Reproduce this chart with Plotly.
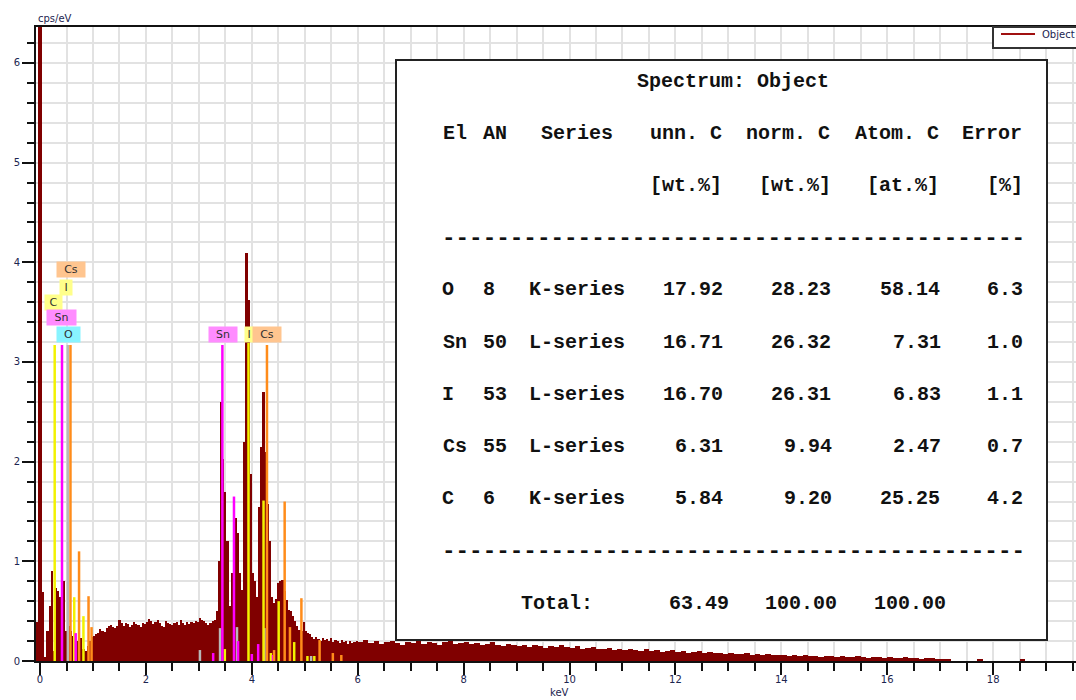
import numpy as np
import plotly.graph_objects as go

# ---------------- data ----------------
# spectrum, fine channels (0.04 keV) starting at -0.08 keV
spec_lo_step = 0.04
spec_lo_start = -0.08
spec_lo_cps = [
    0.39, 7.00, 7.00, 0.69, 0.04, 0.30, 0.55, 0.90, 0.10, 0.73,
    0.70, 0.64, 0.30, 0.80, 0.30, 0.35, 0.30, 0.25, 0.20, 0.20,
    0.23, 0.23, 0.12, 0.10, 0.15, 0.20, 0.24, 0.25, 0.27, 0.28,
    0.32, 0.30, 0.29, 0.33, 0.35, 0.36, 0.34, 0.33, 0.35, 0.41,
    0.38, 0.35, 0.38, 0.37, 0.34, 0.36, 0.39, 0.37, 0.36, 0.34,
    0.38, 0.37, 0.39, 0.42, 0.40, 0.37, 0.39, 0.41, 0.38, 0.35,
    0.34, 0.40, 0.38, 0.37, 0.36, 0.38, 0.39, 0.36, 0.41, 0.38,
    0.36, 0.39, 0.37, 0.39, 0.38, 0.40, 0.39, 0.43, 0.41, 0.40,
    0.38, 0.36, 0.38, 0.40, 0.41, 0.50, 1.00, 2.60, 2.03, 1.70,
    1.20, 0.55, 0.88, 1.20, 1.43, 1.28, 0.88, 0.71, 2.20, 4.09,
    3.62, 1.88, 0.88, 0.80, 0.64, 1.55, 2.15, 2.70, 2.10, 1.58,
    1.20, 0.64, 0.58, 0.62, 0.78, 0.80, 0.81, 0.70, 0.61, 0.51,
    0.50, 0.45, 0.40, 0.35, 0.31, 0.30, 0.39, 0.30, 0.28, 0.27,
    0.24, 0.22, 0.24, 0.22, 0.20, 0.23, 0.21, 0.22, 0.20, 0.23,
    0.19, 0.21, 0.20, 0.18, 0.21, 0.19, 0.20, 0.17, 0.20, 0.18,
    0.19, 0.20,
]
# spectrum, coarse channels (0.1 keV) from 6.0 keV
spec_hi_step = 0.1
spec_hi_start = 6.0
spec_hi_cps = [
    0.19, 0.21, 0.18, 0.20, 0.17, 0.19, 0.20, 0.18, 0.16, 0.19,
    0.18, 0.20, 0.17, 0.19, 0.18, 0.16, 0.19, 0.21, 0.17, 0.18,
    0.19, 0.17, 0.18, 0.16, 0.17, 0.19, 0.16, 0.15, 0.17, 0.16,
    0.15, 0.16, 0.14, 0.16, 0.15, 0.13, 0.15, 0.14, 0.16, 0.14,
    0.13, 0.15, 0.12, 0.13, 0.14, 0.12, 0.12, 0.13, 0.11, 0.12,
    0.11, 0.12, 0.11, 0.10, 0.12, 0.10, 0.11, 0.09, 0.10, 0.11,
    0.09, 0.10, 0.08, 0.09, 0.10, 0.08, 0.09, 0.08, 0.08, 0.07,
    0.08, 0.07, 0.07, 0.08, 0.06, 0.07, 0.06, 0.07, 0.06, 0.06,
    0.06, 0.05, 0.06, 0.05, 0.06, 0.05, 0.05, 0.04, 0.05, 0.05,
    0.04, 0.05, 0.04, 0.04, 0.05, 0.04, 0.03, 0.04, 0.04, 0.03,
    0.04, 0.03, 0.03, 0.04, 0.03, 0.03, 0.02, 0.03, 0.03, 0.02,
    0.02, 0.02, 0.00, 0.00, 0.00, 0.00, 0.00, 0.02, 0.00, 0.00,
    0.00, 0.00, 0.00, 0.00, 0.00, 0.02, 0.00, 0.00, 0.00, 0.00,
    0.00, 0.00, 0.00, 0.00, 0.00,
]

# element line markers (keV, cps)
yellow_keV = [0.277, 0.646, 0.82, 3.49, 3.937, 4.221, 4.36, 4.507, 4.80, 5.05, 5.18]
yellow_cps = [3.17, 0.64, 0.45, 0.12, 3.19, 1.61, 0.08, 0.60, 0.19, 0.05, 0.05]
magenta_keV = [0.415, 0.674, 3.27, 3.444, 3.663, 3.74, 4.00, 4.12, 4.40]
magenta_cps = [3.17, 0.28, 0.08, 3.17, 1.65, 0.20, 0.07, 0.17, 0.06]
orange_keV = [0.575, 0.737, 0.916, 0.973, 4.286, 4.42, 4.62, 4.72, 4.936, 5.28, 5.53, 5.69]
orange_cps = [3.17, 1.10, 0.65, 0.34, 3.17, 0.11, 1.60, 0.34, 0.63, 0.21, 0.08, 0.06]
grey_keV = [0.525, 3.02, 3.40, 3.72, 4.24, 5.12]
grey_cps = [3.17, 0.11, 0.33, 0.34, 0.33, 0.05]

# element label boxes
label_text = ["Cs", "I", "C", "Sn", "O", "Sn", "I", "Cs"]
label_keV = [0.585, 0.49, 0.255, 0.406, 0.538, 3.456, 3.947, 4.287]
label_cps = [3.93, 3.75, 3.60, 3.45, 3.28, 3.28, 3.28, 3.28]
label_bg = ["#ffc58f", "#ffff8a", "#ffff8a", "#ff8cff", "#88f4ff", "#ff8cff", "#ffff8a", "#ffc58f"]
label_w = [28, 12, 17, 29, 23, 28, 8, 28]

# quantification table
tbl_el = ["O", "Sn", "I", "Cs", "C"]
tbl_an = [8, 50, 53, 55, 6]
tbl_series = ["K-series", "L-series", "L-series", "L-series", "K-series"]
tbl_unn = [17.92, 16.71, 16.70, 6.31, 5.84]
tbl_norm = [28.23, 26.32, 26.31, 9.94, 9.20]
tbl_atom = [58.14, 7.31, 6.83, 2.47, 25.25]
tbl_err = [6.3, 1.0, 1.1, 0.7, 4.2]
tbl_total = [63.49, 100.00, 100.00]

legend_name = "Object"

# ---------------- figure ----------------
W, H = 1076, 700
L, R, T, B = 36, 1076, 27, 661
X_MIN, X_MAX = -0.076, 19.565
Y_MAX = 6.361

def pxp(x):
    return (x - L) / (R - L)

def pyp(y):
    return (B - y) / (B - T)

maroon = "#800000"
axis_txt = "#1c2550"

lo_x = spec_lo_start + spec_lo_step * (np.arange(len(spec_lo_cps)) + 0.5)
hi_x = spec_hi_start + spec_hi_step * (np.arange(len(spec_hi_cps)) + 0.5)
bar_x = list(lo_x) + list(hi_x)
bar_y = spec_lo_cps + spec_hi_cps
bar_w = [spec_lo_step] * len(spec_lo_cps) + [spec_hi_step] * len(spec_hi_cps)

fig = go.Figure()
fig.add_trace(go.Bar(x=bar_x, y=bar_y, width=bar_w, name=legend_name,
                     marker=dict(color=maroon, line=dict(width=0)),
                     showlegend=False, hoverinfo="skip"))

def stems(xs, ys):
    sx, sy = [], []
    for e, h in zip(xs, ys):
        sx += [e, e, None]
        sy += [0, h, None]
    return sx, sy

for xs, ys, col in [(grey_keV, grey_cps, "#b8b8b8"), (yellow_keV, yellow_cps, "#f2f200"),
                    (magenta_keV, magenta_cps, "#ff00ff"), (orange_keV, orange_cps, "#ff8c1a")]:
    sx, sy = stems(xs, ys)
    fig.add_trace(go.Scatter(x=sx, y=sy, mode="lines", line=dict(color=col, width=2.5),
                             showlegend=False, hoverinfo="skip"))

tick_font = dict(family="DejaVu Sans", size=10, color=axis_txt)
grid_c = "#e2e2e2"
fig.update_xaxes(range=[X_MIN, X_MAX], tickmode="linear", tick0=0, dtick=2,
                 ticks="outside", ticklen=12, tickwidth=2, tickcolor="#111",
                 showline=True, linewidth=2, linecolor="#111", mirror=True,
                 showgrid=True, gridcolor=grid_c, gridwidth=2, zeroline=False,
                 tickfont=tick_font, ticklabelstandoff=-4,
                 minor=dict(tick0=0, dtick=0.5, ticks="outside", ticklen=8, tickwidth=2,
                            tickcolor="#111", showgrid=True, gridcolor=grid_c, gridwidth=2))
fig.update_yaxes(range=[0, Y_MAX], tickmode="linear", tick0=0, dtick=1,
                 ticks="outside", ticklen=12, tickwidth=2, tickcolor="#111",
                 showline=True, linewidth=2, linecolor="#111",
                 showgrid=True, gridcolor=grid_c, gridwidth=2, zeroline=False,
                 tickfont=tick_font,
                 minor=dict(tick0=0, dtick=0.2, ticks="outside", ticklen=7, tickwidth=2,
                            tickcolor="#111", showgrid=True, gridcolor=grid_c, gridwidth=2))

annotations = []
# element labels
for t, ex, ey, bg, w in zip(label_text, label_keV, label_cps, label_bg, label_w):
    annotations.append(dict(x=ex, y=ey, xref="x", yref="y", text=t, showarrow=False,
                            bgcolor=bg, width=w, height=15, borderpad=0,
                            font=dict(family="DejaVu Sans", size=11, color="#303030")))
# axis titles
annotations.append(dict(x=pxp(55), y=pyp(18), xref="paper", yref="paper", text="cps/eV",
                        xanchor="center", yanchor="middle", showarrow=False,
                        font=dict(family="DejaVu Sans", size=10, color=axis_txt)))
annotations.append(dict(x=pxp(559), y=pyp(693), xref="paper", yref="paper", text="keV",
                        xanchor="center", yanchor="middle", showarrow=False,
                        font=dict(family="DejaVu Sans", size=10, color=axis_txt)))

# legend (drawn by hand, it runs to the right edge as in the original)
annotations.append(dict(x=pxp(1040), y=pyp(34), xref="paper", yref="paper", text=legend_name,
                        xanchor="left", yanchor="middle", showarrow=False,
                        font=dict(family="DejaVu Sans", size=10, color=axis_txt)))

# table
COL0, COLW = 441, 13.6
ROW0, ROWH = 81, 52.2
mono = dict(family="Liberation Mono", size=20, color="#111", weight="bold")

def tok(text, col, row, size=None):
    f = dict(mono)
    if size:
        f["size"] = size
    xc = COL0 + COLW * (col + len(text) / 2.0)
    yc = ROW0 + ROWH * row
    annotations.append(dict(x=pxp(xc), y=pyp(yc), xref="paper", yref="paper",
                            text=text.replace(" ", "\u00a0"), showarrow=False,
                            xanchor="center", yanchor="middle", font=f))

tok("Spectrum: Object", 21.5 - 8, 0)
for text, col in [("El", 0), ("AN", 3), ("Series", 7), ("unn. C", 15), ("norm. C", 22),
                  ("Atom. C", 30), ("Error", 38)]:
    tok(text, col, 1)
for text, end in [("[wt.%]", 20), ("[wt.%]", 28), ("[at.%]", 36), ("[%]", 42)]:
    tok(text, end + 1 - len(text), 2)
tok("-" * 43, 0, 3, size=22.6)
for i in range(len(tbl_el)):
    r = 4 + i
    tok(tbl_el[i], 0, r)
    tok(str(tbl_an[i]), 3, r)
    tok(tbl_series[i], 6, r)
    for val, end in [(f"{tbl_unn[i]:.2f}", 20), (f"{tbl_norm[i]:.2f}", 28),
                     (f"{tbl_atom[i]:.2f}", 36), (f"{tbl_err[i]:.1f}", 42)]:
        tok(val, end + 1 - len(val), r)
tok("-" * 43, 0, 9, size=22.6)
tok("Total:", 5.5, 10)
tok(f"{tbl_total[0]:.2f}", 16.5, 10)
tok(f"{tbl_total[1]:.2f}", 23.5, 10)
tok(f"{tbl_total[2]:.2f}", 31.5, 10)

shapes = [
    dict(type="rect", xref="paper", yref="paper", x0=pxp(396), x1=pxp(1047),
         y0=pyp(640), y1=pyp(60), line=dict(color="#222", width=2),
         fillcolor="white", layer="above"),
    dict(type="rect", xref="paper", yref="paper", x0=pxp(993), x1=pxp(1090),
         y0=pyp(48), y1=pyp(27), line=dict(color="#333", width=2),
         fillcolor="white", layer="above"),
    dict(type="line", xref="paper", yref="paper", x0=pxp(1001), x1=pxp(1035),
         y0=pyp(34), y1=pyp(34), line=dict(color="#a01010", width=2), layer="above"),
]

fig.update_layout(
    width=W, height=H, margin=dict(l=L, r=W - R, t=T, b=H - B, pad=0),
    paper_bgcolor="white", plot_bgcolor="white",
    barmode="overlay", bargap=0,
    shapes=shapes, annotations=annotations,
    showlegend=False,
)

fig.write_html("out.html", config={"displayModeBar": False},
               post_script="document.body.style.margin='0';document.body.style.overflow='hidden';")
